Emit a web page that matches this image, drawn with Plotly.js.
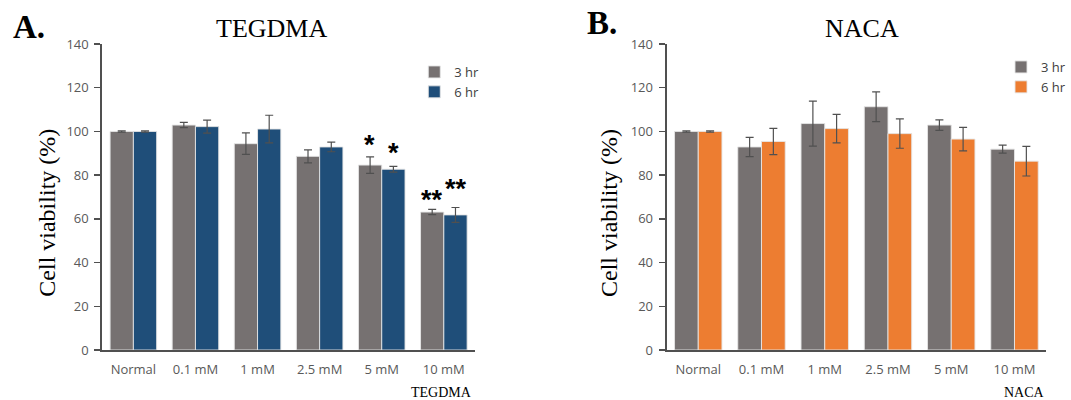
<!DOCTYPE html>
<html>
<head>
<meta charset="utf-8">
<script src="https://cdn.plot.ly/plotly-3.0.1.min.js"></script>
<style>html,body{margin:0;padding:0;background:#fff;}#chart{width:1071px;height:400px;}</style>
</head>
<body>
<div id="chart"></div>
<script>
// ---- data ----
const categories = ["Normal", "0.1 mM", "1 mM", "2.5 mM", "5 mM", "10 mM"];
const tegdma3hr = [100, 102.9, 94.4, 88.6, 84.6, 63.1];
const tegdma3hrErr = [0.3, 1.2, 4.9, 3.0, 3.8, 1.2];
const tegdma6hr = [100, 102.2, 101.1, 92.9, 82.7, 61.8];
const tegdma6hrErr = [0.3, 3.0, 6.3, 2.2, 1.3, 3.4];
const naca3hr = [100, 92.9, 103.6, 111.3, 102.9, 91.9];
const naca3hrErr = [0.3, 4.4, 10.3, 6.8, 2.4, 1.8];
const naca6hr = [100, 95.4, 101.3, 99.0, 96.5, 86.4];
const naca6hrErr = [0.3, 6.0, 6.5, 6.7, 5.4, 6.8];
const seriesNames = ["3 hr", "6 hr"];
// significance marks: [category, series index, label, y position]
const starCats = ["5 mM", "5 mM", "10 mM", "10 mM"];
const starSeries = [0, 1, 0, 1];
const starLabels = ["*", "*", "**", "**"];
const starY = [96, 92.4, 70.9, 75.9];

const gray = "#767171", blue = "#1F4E79", orange = "#ED7D31";
const errStyle = (arr) => ({type: "data", array: arr, visible: true, color: "#505050", thickness: 1.2, width: 4});
const barLine = {color: "rgba(230,230,230,0.9)", width: 1};

const traces = [
  {type: "bar", name: seriesNames[0], x: categories, y: tegdma3hr, error_y: errStyle(tegdma3hrErr),
   marker: {color: gray, line: barLine}, xaxis: "x", yaxis: "y", legend: "legend"},
  {type: "bar", name: seriesNames[1], x: categories, y: tegdma6hr, error_y: errStyle(tegdma6hrErr),
   marker: {color: blue, line: barLine}, xaxis: "x", yaxis: "y", legend: "legend"},
  {type: "bar", name: seriesNames[0], x: categories, y: naca3hr, error_y: errStyle(naca3hrErr),
   marker: {color: gray, line: barLine}, xaxis: "x2", yaxis: "y2", legend: "legend2"},
  {type: "bar", name: seriesNames[1], x: categories, y: naca6hr, error_y: errStyle(naca6hrErr),
   marker: {color: orange, line: barLine}, xaxis: "x2", yaxis: "y2", legend: "legend2"}
];

const tickFont = {family: "Open Sans, DejaVu Sans, sans-serif", size: 13, color: "#595959"};
const serif = "Liberation Serif, Times New Roman, serif";

function xAxis(domain, yref) {
  return {domain: domain, anchor: yref, showline: true, linecolor: "#505050", linewidth: 2,
          ticks: "", tickfont: tickFont, ticklabelstandoff: 6, showgrid: false, zeroline: false,
          fixedrange: true};
}
function yAxis(domain, xref) {
  return {domain: domain, anchor: xref, range: [0, 140], dtick: 20, showline: true, linecolor: "#505050",
          linewidth: 2, ticks: "outside", ticklen: 6, tickwidth: 1.5, tickcolor: "#505050",
          ticklabelstandoff: 3, tickfont: tickFont, showgrid: false, zeroline: false, fixedrange: true};
}

const yDom = [1 - 350 / 400, 1 - 44 / 400];
const annotations = [
  {text: "A.", xref: "paper", yref: "paper", x: 11 / 1071, y: 1 - 27 / 400, xanchor: "left", yanchor: "middle",
   showarrow: false, font: {family: serif, size: 33, color: "#000", weight: "bold"}},
  {text: "B.", xref: "paper", yref: "paper", x: 589 / 1071, y: 1 - 23 / 400, xanchor: "left", yanchor: "middle",
   showarrow: false, font: {family: serif, size: 33, color: "#000", weight: "bold"}},
  {text: "TEGDMA", xref: "paper", yref: "paper", x: 273 / 1071, y: 1 - 28 / 400, xanchor: "center", yanchor: "middle",
   showarrow: false, font: {family: serif, size: 26, color: "#000"}},
  {text: "NACA", xref: "paper", yref: "paper", x: 868 / 1071, y: 1 - 28 / 400, xanchor: "center", yanchor: "middle",
   showarrow: false, font: {family: serif, size: 26, color: "#000"}},
  {text: "Cell viability (%)", xref: "paper", yref: "paper", x: 47 / 1071, y: 1 - 213 / 400, textangle: -90,
   xanchor: "center", yanchor: "middle", showarrow: false, font: {family: serif, size: 24, color: "#000"}},
  {text: "Cell viability (%)", xref: "paper", yref: "paper", x: 613 / 1071, y: 1 - 213 / 400, textangle: -90,
   xanchor: "center", yanchor: "middle", showarrow: false, font: {family: serif, size: 24, color: "#000"}},
  {text: "TEGDMA", xref: "paper", yref: "paper", x: 444 / 1071, y: 1 - 392 / 400, xanchor: "center", yanchor: "middle",
   showarrow: false, font: {family: serif, size: 14, color: "#000"}},
  {text: "NACA", xref: "paper", yref: "paper", x: 1031 / 1071, y: 1 - 392 / 400, xanchor: "center", yanchor: "middle",
   showarrow: false, font: {family: serif, size: 14, color: "#000"}}
];
for (let i = 0; i < starCats.length; i++) {
  annotations.push({text: starLabels[i], xref: "x", yref: "y", x: starCats[i], y: starY[i],
    xshift: starSeries[i] === 0 ? -12 : 12, yshift: -5, xanchor: "center", yanchor: "middle", showarrow: false,
    font: {family: "Liberation Sans, Arial, sans-serif", size: 27, color: "#000", weight: "bold"}});
}

const legendBase = {bgcolor: "rgba(0,0,0,0)", font: {family: "Open Sans, DejaVu Sans, sans-serif", size: 13, color: "#404040"},
  itemwidth: 30, tracegroupgap: 0, traceorder: "normal", xanchor: "left", yanchor: "top"};

const layout = {
  width: 1071, height: 400, margin: {l: 0, r: 0, t: 0, b: 0},
  paper_bgcolor: "#fff", plot_bgcolor: "#fff",
  barmode: "group", bargap: 0.25, bargroupgap: 0,
  showlegend: true,
  xaxis: xAxis([103 / 1071, 478 / 1071], "y"),
  yaxis: yAxis(yDom, "x"),
  xaxis2: xAxis([671 / 1071, 1053 / 1071], "y2"),
  yaxis2: yAxis(yDom, "x2"),
  legend: Object.assign({}, legendBase, {x: 417 / 1071, y: 1 - 57 / 400}),
  legend2: Object.assign({}, legendBase, {x: 1008 / 1071, y: 1 - 52 / 400}),
  annotations: annotations
};

Plotly.newPlot("chart", traces, layout, {displayModeBar: false, staticPlot: true});
</script>
</body>
</html>
